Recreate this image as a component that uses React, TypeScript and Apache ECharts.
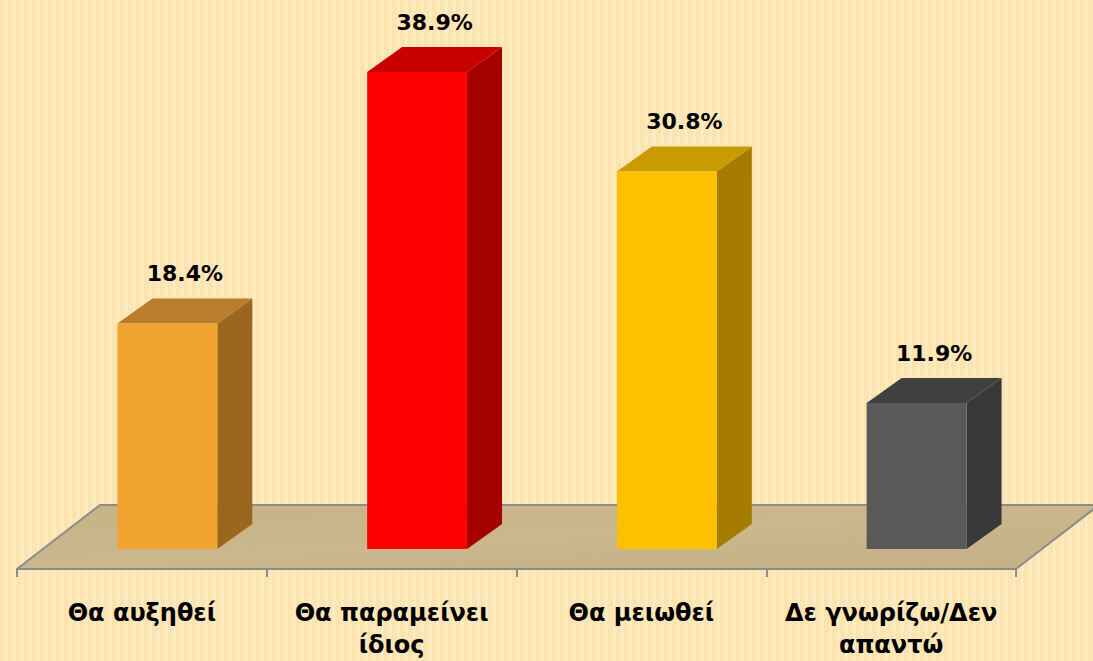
import React, { useEffect, useRef } from "react";
import * as echarts from "echarts";

const categories = ["Θα αυξηθεί", "Θα παραμείνει\nίδιος", "Θα μειωθεί", "Δε γνωρίζω/Δεν\nαπαντώ"];
const values = [18.4, 38.9, 30.8, 11.9];
const valueLabels = ["18.4%", "38.9%", "30.8%", "11.9%"];

const frontColors = ["#f2a431", "#ff0000", "#ffc000", "#595959"];
const topColors = ["#b97d2b", "#c80000", "#c89b00", "#404040"];
const sideColors = ["#9b661e", "#a50000", "#a67c00", "#383838"];

const FONT = "'DejaVu Sans', Verdana, sans-serif";

export default function App() {
  const ref = useRef<HTMLDivElement>(null);
  useEffect(() => {
    if (!ref.current) return;
    const chart = echarts.init(ref.current, null, { renderer: "svg" });
    const DX = 35;
    const DY = -25;
    const option: any = {
      animation: false,
      grid: { left: 17, right: 77, top: 20, bottom: 92, containLabel: false },
      xAxis: {
        type: "category",
        data: categories,
        boundaryGap: true,
        axisLine: { show: true, onZero: false, lineStyle: { color: "#8c8c8c", width: 2 } },
        axisTick: { show: true, length: 8, lineStyle: { color: "#8c8c8c", width: 2 } },
        axisLabel: {
          color: "#000",
          fontSize: 24,
          fontWeight: "bold",
          fontFamily: FONT,
          lineHeight: 32,
          margin: 28,
          interval: 0,
        },
        splitLine: { show: false },
        z: 5,
      },
      yAxis: {
        type: "value",
        min: -1.63,
        max: 43.15,
        show: false,
        splitLine: { show: false },
      },
      series: [
        {
          type: "custom",
          z: 1,
          silent: true,
          data: [[0, 0]],
          renderItem: (params: any) => {
            const cs = params.coordSys;
            const bx = cs.x;
            const by = cs.y + cs.height;
            const w = cs.width;
            const fx = 83;
            const fy = -64;
            return {
              type: "group",
              children: [
                {
                  type: "polygon",
                  shape: {
                    points: [
                      [bx, by],
                      [bx + w, by],
                      [bx + w + fx, by + fy],
                      [bx + fx, by + fy],
                    ],
                  },
                  style: {
                    fill: new echarts.graphic.LinearGradient(0, 0, 1, 1, [
                      { offset: 0, color: "#c6b387" },
                      { offset: 0.5, color: "#cbb78d" },
                      { offset: 1, color: "#c4b085" },
                    ]),
                  },
                },
                {
                  type: "polyline",
                  shape: {
                    points: [
                      [bx, by],
                      [bx + fx, by + fy],
                      [bx + w + fx, by + fy],
                    ],
                  },
                  style: { stroke: "#8c8c8c", lineWidth: 2, fill: "none" },
                },
                {
                  type: "line",
                  shape: { x1: bx + w, y1: by, x2: bx + w + fx, y2: by + fy },
                  style: { stroke: "#8c8c8c", lineWidth: 2 },
                },
              ],
            };
          },
        },
        {
          type: "custom",
          z: 3,
          data: values.map((v, i) => [i, v]),
          encode: { x: 0, y: 1 },
          renderItem: (params: any, api: any) => {
            const i = api.value(0);
            const v = api.value(1);
            const base = api.coord([i, 0]);
            const top = api.coord([i, v]);
            const bw = api.size([1, 0])[0];
            const left = base[0] - 0.098 * bw;
            const right = left + 0.4 * bw;
            const yb = base[1];
            const yt = top[1];
            return {
              type: "group",
              children: [
                {
                  type: "polygon",
                  shape: { points: [[right, yb], [right + DX, yb + DY], [right + DX, yt + DY], [right, yt]] },
                  style: { fill: sideColors[i] },
                },
                {
                  type: "polygon",
                  shape: { points: [[left, yt], [right, yt], [right + DX, yt + DY], [left + DX, yt + DY]] },
                  style: { fill: topColors[i] },
                },
                {
                  type: "rect",
                  shape: { x: left, y: yt, width: right - left, height: yb - yt },
                  style: { fill: frontColors[i] },
                },
                {
                  type: "text",
                  style: {
                    text: valueLabels[i],
                    x: (left + right + DX) / 2,
                    y: yt - 50,
                    align: "center",
                    verticalAlign: "middle",
                    fontSize: 22,
                    fontWeight: "bold",
                    fontFamily: FONT,
                    fill: "#000",
                  },
                },
              ],
            };
          },
        },
      ],
    };
    chart.setOption(option);
    return () => chart.dispose();
  }, []);
  return (
    <div
      ref={ref}
      style={{
        position: "absolute",
        left: 0,
        top: 0,
        width: 1093,
        height: 661,
        background:
          "repeating-linear-gradient(90deg, #fbe4b0 0px, #fbe4b0 5px, #fdefcf 6px, #fbe4b0 8px)",
      }}
    />
  );
}
